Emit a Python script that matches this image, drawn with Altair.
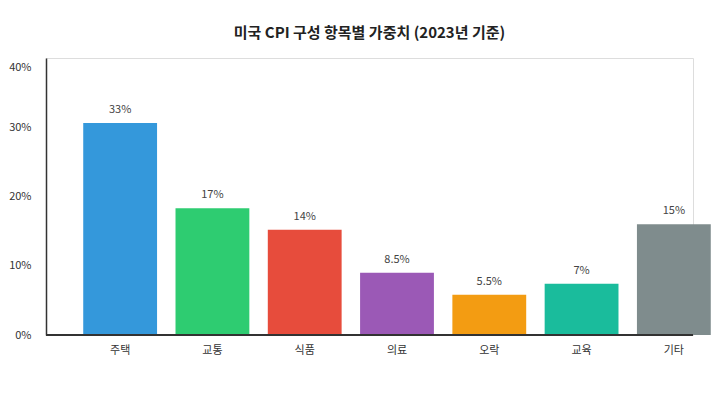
import altair as alt
import pandas as pd

categories = ["주택", "교통", "식품", "의료", "오락", "교육", "기타"]
bar_heights = [30.6, 18.3, 15.2, 9.0, 5.8, 7.4, 16.0]
label_texts = ["33%", "17%", "14%", "8.5%", "5.5%", "7%", "15%"]
colors = ["#3498db", "#2ecc71", "#e74c3c", "#9b59b6", "#f39c12", "#1abc9c", "#7f8c8d"]
y_ticks = [0, 10, 20, 30, 40]

df = pd.DataFrame({"cat": categories, "h": bar_heights, "lab": label_texts})

W, H = 647, 277
FONT = "Noto Sans CJK KR"

xs = alt.X("cat:N", sort=categories,
           scale=alt.Scale(range=[28, 674], paddingInner=0.2, paddingOuter=0.1),
           axis=alt.Axis(title=None, labelAngle=0, domain=False, ticks=False,
                         labelPadding=9, labelFontSize=11, labelColor="#333",
                         labelFont=FONT))
ys = alt.Y("h:Q", scale=alt.Scale(domain=[0, 40], nice=False),
           axis=alt.Axis(title=None, values=y_ticks, grid=False, ticks=False,
                         labelExpr="datum.value + '%'", labelPadding=15,
                         labelFontSize=11, labelColor="#333", labelFont=FONT,
                         domainColor="#333", domainWidth=1.5,
                         labelOffset={"condition": {"test": "datum.value >= 40", "value": 9}, "value": 0}))

bars = alt.Chart(df).mark_bar().encode(
    x=xs, y=ys,
    color=alt.Color("cat:N", sort=categories,
                    scale=alt.Scale(domain=categories, range=colors), legend=None),
)

text = alt.Chart(df).mark_text(dy=-13, fontSize=11, color="#444", font=FONT).encode(
    x=alt.X("cat:N", sort=categories), y="h:Q", text="lab:N"
)

baseline = alt.Chart(df).mark_rule(color="#333", strokeWidth=1.5).encode(
    y=alt.datum(0), x=alt.value(0), x2=alt.value(W)
)

chart = alt.layer(bars, text, baseline).properties(
    width=W, height=H,
    title=alt.TitleParams("미국 CPI 구성 항목별 가중치 (2023년 기준)", fontSize=15,
                          fontWeight="bold", font=FONT, color="#222", offset=17,
                          anchor="middle"),
    padding={"left": 0, "top": 18, "right": 0, "bottom": 0},
).configure_view(fill="#f4f4f4", stroke="#dddddd").configure(background="white")

chart.save("out.html", embed_options={"renderer": "svg", "actions": False})
